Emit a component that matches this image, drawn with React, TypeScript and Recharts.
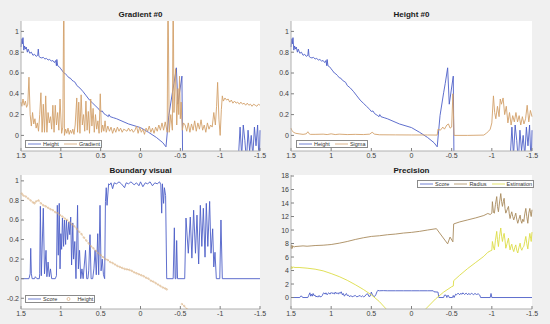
import React from "react";
import { LineChart, Line, XAxis, YAxis, CartesianGrid } from "recharts";

type Pt = [number, number | null];

const xTicks = [1.5, 1, 0.5, 0, -0.5, -1, -1.5];
const unitTicks = [0, 0.2, 0.4, 0.6, 0.8, 1];
const boundaryTicks = [-0.2, 0, 0.2, 0.4, 0.6, 0.8, 1];
const precisionTicks = [0, 2, 4, 6, 8, 10, 12, 14, 16, 18];

// Height profile (shared by the two top panels)
const height: Pt[] = [
  [1.5, 0.85], [1.49, 0.93], [1.483, 0.88], [1.475, 0.94], [1.465, 0.82], [1.455, 0.86], [1.445, 0.83],
  [1.435, 0.85], [1.42, 0.8], [1.41, 0.83], [1.39, 0.79], [1.37, 0.8], [1.35, 0.77], [1.33, 0.78],
  [1.31, 0.76], [1.29, 0.77], [1.283, 0.83], [1.275, 0.76], [1.26, 0.75], [1.24, 0.745], [1.22, 0.75],
  [1.2, 0.735], [1.18, 0.74], [1.16, 0.725], [1.14, 0.73], [1.12, 0.715], [1.1, 0.72], [1.08, 0.7],
  [1.065, 0.72], [1.055, 0.67], [1.05, 0.73], [1.04, 0.67], [1.02, 0.66], [1.0, 0.64], [0.98, 0.62],
  [0.96, 0.6], [0.94, 0.59], [0.92, 0.575], [0.9, 0.555], [0.88, 0.55], [0.86, 0.53], [0.84, 0.52],
  [0.82, 0.51], [0.8, 0.48], [0.76, 0.455], [0.72, 0.42], [0.68, 0.38], [0.64, 0.34], [0.6, 0.31],
  [0.56, 0.28], [0.52, 0.25], [0.5, 0.23], [0.48, 0.235], [0.46, 0.21], [0.44, 0.2], [0.42, 0.19],
  [0.405, 0.18], [0.395, 0.2], [0.38, 0.18], [0.34, 0.17], [0.3, 0.16], [0.15, 0.11], [0.0, 0.075],
  [-0.1, 0.03], [-0.2, -0.02], [-0.28, -0.07], [-0.32, -0.11], [-0.355, 0.19], [-0.4, 0.41],
  [-0.42, 0.5], [-0.45, 0.65], [-0.47, 0.3], [-0.52, 0.57], [-0.53, -0.35], [-1.2, -0.35],
  [-1.23, -0.2], [-1.25, 0.08], [-1.27, -0.2], [-1.29, 0.1], [-1.31, -0.05], [-1.33, -0.25],
  [-1.35, 0.05], [-1.37, -0.15], [-1.39, 0.0], [-1.41, -0.2], [-1.43, 0.08], [-1.45, -0.1],
  [-1.47, 0.1], [-1.49, -0.3], [-1.5, 0.05],
];

const gradient: Pt[] = [
  [1.5, 0.32], [1.49, 0.28], [1.475, 0.35], [1.46, 0.29], [1.445, 0.33], [1.43, 0.27], [1.415, 0.3],
  [1.4, 0.56], [1.385, 0.2], [1.37, 0.09], [1.355, 0.22], [1.34, 0.11], [1.325, 0.16], [1.31, 0.07],
  [1.295, 0.12], [1.28, 0.04], [1.265, 0.2], [1.25, 0.41], [1.235, 0.03], [1.22, 0.3], [1.205, 0.03],
  [1.19, 0.38], [1.175, 0.03], [1.16, 0.22], [1.145, 0.12], [1.13, 0.18], [1.115, 0.06], [1.1, 0.29],
  [1.085, 0.03], [1.07, 0.29], [1.055, 0.1], [1.04, 0.22], [1.025, 0.05], [1.01, 0.35], [0.99, 0.02],
  [0.975, 0.08], [0.962, 1.5], [0.955, 0.0], [0.94, 0.06], [0.925, 0.02], [0.91, 0.07], [0.895, 0.01],
  [0.88, 0.05], [0.865, 0.02], [0.85, 0.06], [0.835, 0.01], [0.82, 0.1], [0.8, 0.36], [0.79, 0.03],
  [0.775, 0.32], [0.76, 0.02], [0.745, 0.39], [0.73, 0.1], [0.715, 0.2], [0.7, 0.04], [0.685, 0.33],
  [0.67, 0.05], [0.655, 0.23], [0.64, 0.02], [0.625, 0.35], [0.61, 0.09], [0.595, 0.26], [0.58, 0.03],
  [0.565, 0.2], [0.55, 0.06], [0.535, 0.14], [0.52, 0.02], [0.505, 0.4], [0.49, 0.03], [0.475, 0.1],
  [0.46, 0.04], [0.445, 0.14], [0.43, 0.03], [0.41, 0.09], [0.39, 0.04], [0.37, 0.08], [0.35, 0.02],
  [0.33, 0.07], [0.31, 0.03], [0.29, 0.08], [0.27, 0.04], [0.25, 0.07], [0.23, 0.03], [0.21, 0.06],
  [0.19, 0.05], [0.17, 0.04], [0.15, 0.07], [0.13, 0.04], [0.11, 0.06], [0.09, 0.03], [0.07, 0.05],
  [0.05, 0.09], [0.03, 0.02], [0.01, 0.08], [-0.01, 0.03], [-0.03, 0.06], [-0.05, 0.01], [-0.07, 0.07],
  [-0.09, 0.04], [-0.11, 0.09], [-0.13, 0.03], [-0.15, 0.07], [-0.17, 0.02], [-0.19, 0.08],
  [-0.21, 0.04], [-0.23, 0.1], [-0.25, 0.05], [-0.27, 0.12], [-0.29, 0.05], [-0.31, 0.13],
  [-0.335, 0.03], [-0.345, 1.5], [-0.36, 0.03], [-0.38, 0.2], [-0.4, 0.05], [-0.41, 1.5], [-0.42, 0.22],
  [-0.44, 0.64], [-0.455, 0.1], [-0.47, 0.45], [-0.48, 0.2], [-0.49, 0.57], [-0.5, 0.16], [-0.51, 0.32],
  [-0.525, 0.05], [-0.54, 0.12], [-0.56, 0.1], [-0.58, 0.04], [-0.6, 0.12], [-0.62, 0.03], [-0.64, 0.11],
  [-0.66, 0.05], [-0.68, 0.14], [-0.7, 0.04], [-0.72, 0.12], [-0.74, 0.06], [-0.76, 0.15], [-0.78, 0.05],
  [-0.8, 0.1], [-0.82, 0.03], [-0.84, 0.12], [-0.86, 0.06], [-0.88, 0.1], [-0.9, 0.08], [-0.92, 0.22],
  [-0.94, 0.1], [-0.955, 0.28], [-0.968, 0.51], [-0.985, 0.15], [-1.0, 0.0], [-1.015, 0.25],
  [-1.027, 0.38], [-1.04, 0.33], [-1.06, 0.36], [-1.08, 0.34], [-1.1, 0.35], [-1.12, 0.32], [-1.14, 0.34],
  [-1.16, 0.31], [-1.18, 0.33], [-1.2, 0.31], [-1.22, 0.32], [-1.24, 0.3], [-1.26, 0.32], [-1.28, 0.3],
  [-1.3, 0.31], [-1.32, 0.29], [-1.34, 0.31], [-1.36, 0.29], [-1.38, 0.3], [-1.4, 0.28], [-1.42, 0.3],
  [-1.44, 0.29], [-1.46, 0.28], [-1.48, 0.3], [-1.5, 0.29],
];

const sigma: Pt[] = [
  [1.5, 0.07], [1.49, 0.05], [1.47, 0.03], [1.44, 0.02], [1.4, 0.015], [1.35, 0.01], [1.31, 0.015],
  [1.29, 0.035], [1.28, 0.02], [1.26, 0.01], [1.2, 0.01], [1.1, 0.012], [1.05, 0.008], [1.0, 0.015],
  [0.95, 0.008], [0.9, 0.012], [0.8, 0.008], [0.7, 0.01], [0.6, 0.008], [0.52, 0.012], [0.49, 0.03],
  [0.46, 0.012], [0.4, 0.006], [0.2, 0.005], [0.0, 0.004], [-0.2, 0.004], [-0.32, 0.003], [-0.33, 0.06],
  [-0.36, 0.05], [-0.39, 0.08], [-0.41, 0.06], [-0.44, 0.1], [-0.46, 0.11], [-0.48, 0.07], [-0.5, 0.08],
  [-0.515, 0.4], [-0.53, 0.0], [-0.7, 0.0], [-0.9, 0.003], [-0.93, 0.02], [-0.96, 0.04], [-0.98, 0.06],
  [-1.0, 0.12], [-1.02, 0.38], [-1.035, 0.22], [-1.05, 0.16], [-1.07, 0.28], [-1.09, 0.18],
  [-1.105, 0.35], [-1.12, 0.3], [-1.14, 0.36], [-1.16, 0.2], [-1.18, 0.28], [-1.2, 0.12], [-1.22, 0.22],
  [-1.24, 0.1], [-1.26, 0.19], [-1.28, 0.13], [-1.3, 0.22], [-1.32, 0.13], [-1.34, 0.19], [-1.36, 0.1],
  [-1.38, 0.18], [-1.4, 0.11], [-1.42, 0.16], [-1.44, 0.29], [-1.46, 0.13], [-1.48, 0.24], [-1.5, 0.18],
];

const boundaryScore: Pt[] = [
  [1.5, 0], [1.4, 0], [1.385, 0.05], [1.378, 0.31], [1.37, 0.05], [1.36, 0], [1.33, 0], [1.32, 0.02],
  [1.3, 0], [1.27, 0], [1.265, 0.05], [1.257, 0.74], [1.245, 0.03], [1.22, 0.72], [1.205, 0.05],
  [1.186, 0.29], [1.175, 0.02], [1.16, 0.17], [1.145, 0.02], [1.13, 0.1], [1.115, 0], [1.07, 0],
  [1.055, 0.03], [1.044, 0.75], [1.032, 0.24], [1.02, 0.77], [1.01, 0.1], [1.0, 0.46], [0.99, 0.3],
  [0.98, 0.62], [0.965, 0.33], [0.955, 0.6], [0.94, 0.35], [0.93, 0.6], [0.915, 0.4], [0.9, 0.58],
  [0.888, 0.45], [0.876, 0.63], [0.865, 0.14], [0.85, 0.57], [0.84, 0.2], [0.825, 0.38], [0.81, 0.0],
  [0.79, 0.75], [0.78, 0.1], [0.765, 0.29], [0.75, 0.0], [0.735, 0.1], [0.72, 0.0], [0.69, 0.29],
  [0.675, 0.0], [0.66, 0.0], [0.65, 0.08], [0.634, 0.45], [0.62, 0.0], [0.6, 0.0], [0.585, 0.1],
  [0.57, 0.29], [0.555, 0.04], [0.537, 0.46], [0.525, 0.04], [0.508, 0.75], [0.495, 0.08], [0.48, 0.2],
  [0.465, 0.04], [0.45, 0.0], [0.44, 0.79], [0.43, 0.93], [0.42, 0.75], [0.4, 0.97], [0.385, 0.96],
  [0.37, 0.98], [0.35, 0.92], [0.33, 0.98], [0.3, 0.97], [0.27, 0.99], [0.24, 0.97], [0.2, 0.93],
  [0.18, 0.98], [0.15, 0.97], [0.12, 0.99], [0.08, 0.96], [0.05, 0.98], [0.02, 0.95], [0.0, 0.99],
  [-0.03, 0.94], [-0.06, 0.98], [-0.09, 0.97], [-0.12, 0.99], [-0.15, 0.95], [-0.18, 0.98],
  [-0.21, 0.97], [-0.24, 0.99], [-0.255, 0.96], [-0.266, 0.67], [-0.275, 0.97], [-0.29, 0.77],
  [-0.3, 0.93], [-0.315, 0.85], [-0.329, 0.0], [-0.41, 0.0], [-0.425, 0.52], [-0.435, 0.0],
  [-0.445, 0.0], [-0.454, 0.39], [-0.465, 0.0], [-0.555, 0.0], [-0.571, 0.62], [-0.6, 0.26],
  [-0.625, 0.63], [-0.645, 0.21], [-0.667, 0.7], [-0.69, 0.26], [-0.709, 0.65], [-0.73, 0.15],
  [-0.751, 0.75], [-0.77, 0.33], [-0.789, 0.72], [-0.81, 0.22], [-0.826, 0.77], [-0.845, 0.33],
  [-0.868, 0.79], [-0.885, 0.26], [-0.906, 0.51], [-0.92, 0.12], [-0.935, 0.27], [-0.952, 0.0],
  [-0.995, 0.0], [-1.01, 0.6], [-1.027, 0.0], [-1.5, 0],
];

const boundaryHeight: Pt[] = [
  [1.49, 0.87], [1.47, 0.85], [1.44, 0.84], [1.41, 0.82], [1.38, 0.8], [1.35, 0.78], [1.33, 0.77],
  [1.31, 0.79], [1.28, 0.8], [1.25, 0.77], [1.22, 0.75], [1.19, 0.74], [1.16, 0.725], [1.13, 0.71],
  [1.1, 0.7], [1.07, 0.68], [1.04, 0.67], [1.01, 0.65], [0.98, 0.635], [0.95, 0.615], [0.92, 0.6],
  [0.89, 0.575], [0.86, 0.555], [0.83, 0.535], [0.8, 0.51], [0.77, 0.48], [0.74, 0.455], [0.71, 0.42],
  [0.68, 0.39], [0.65, 0.36], [0.62, 0.33], [0.59, 0.31], [0.56, 0.285], [0.53, 0.26], [0.5, 0.24],
  [0.47, 0.22], [0.44, 0.2], [0.41, 0.19], [0.38, 0.17], [0.35, 0.16], [0.32, 0.145], [0.29, 0.13],
  [0.26, 0.12], [0.23, 0.11], [0.2, 0.1], [0.17, 0.095], [0.14, 0.09], [0.11, 0.08], [0.08, 0.065],
  [0.05, 0.055], [0.02, 0.045], [-0.01, 0.035], [-0.04, 0.025], [-0.07, 0.01], [-0.1, 0.0],
  [-0.13, -0.02], [-0.16, -0.03], [-0.19, -0.045], [-0.22, -0.06], [-0.25, -0.075], [-0.28, -0.09],
  [-0.31, -0.1], [-0.33, -0.11], [-0.4, null], [-0.52, -0.26], [-0.55, -0.28], [-0.58, -0.31],
  [-0.61, -0.34],
];

const precisionScore: Pt[] = [
  [1.5, 0], [1.39, 0], [1.38, 0.2], [1.365, 0.2], [1.355, 0], [1.29, 0], [1.28, 0.3], [1.265, 0.7],
  [1.255, 0.2], [1.245, 0.5], [1.235, 0.2], [1.225, 0.6], [1.215, 0.3], [1.2, 0.35], [1.19, 0.1],
  [1.175, 0.2], [1.165, 0.05], [1.15, 0.3], [1.14, 0.1], [1.12, 0.15], [1.11, 0.3], [1.1, 0.6],
  [1.09, 0.7], [1.075, 0.5], [1.065, 0.7], [1.05, 0.4], [1.04, 0.6], [1.03, 0.7], [1.015, 0.5],
  [1.0, 0.75], [0.99, 0.6], [0.975, 0.7], [0.96, 0.5], [0.95, 0.8], [0.94, 0.6], [0.925, 0.7],
  [0.91, 0.5], [0.9, 0.75], [0.89, 0.6], [0.875, 0.85], [0.86, 0.4], [0.85, 0.6], [0.835, 0.2],
  [0.82, 0.5], [0.81, 0.6], [0.8, 0.3], [0.785, 0.35], [0.77, 0.1], [0.755, 0.3], [0.74, 0.1],
  [0.72, 0.2], [0.7, 0.3], [0.68, 0.1], [0.66, 0.2], [0.64, 0.3], [0.625, 0.1], [0.61, 0.25],
  [0.595, 0.1], [0.58, 0.2], [0.56, 0.5], [0.545, 0.55], [0.53, 0.15], [0.515, 0.2], [0.5, 0.8],
  [0.49, 0.5], [0.475, 0.2], [0.46, 0.15], [0.445, 0.4], [0.43, 0.85], [0.42, 1.05], [0.4, 1.0],
  [0.35, 1.02], [0.3, 1.0], [0.2, 1.0], [0.1, 1.0], [0.0, 1.0], [-0.1, 1.0], [-0.2, 1.0], [-0.27, 1.0],
  [-0.28, 0.85], [-0.33, 0.8], [-0.34, 0.0], [-0.4, 0.0], [-0.41, 0.35], [-0.43, 0.35], [-0.44, 0.0],
  [-0.45, 0.3], [-0.46, 0.3], [-0.47, 0.0], [-0.51, 0.0], [-0.52, 0.3], [-0.53, 0.0], [-0.55, 0.5],
  [-0.56, 0.4], [-0.58, 0.65], [-0.6, 0.4], [-0.61, 0.6], [-0.63, 0.5], [-0.64, 0.7], [-0.66, 0.45],
  [-0.68, 0.65], [-0.7, 0.4], [-0.71, 0.6], [-0.73, 0.45], [-0.75, 0.65], [-0.77, 0.4], [-0.79, 0.6],
  [-0.81, 0.45], [-0.83, 0.55], [-0.85, 0.35], [-0.86, 0.0], [-0.98, 0.0], [-0.99, 0.6], [-1.0, 0.0],
  [-1.5, 0.0],
];

const radius: Pt[] = [
  [1.5, 7.3], [1.495, 7.8], [1.49, 7.2], [1.485, 7.7], [1.48, 7.4], [1.47, 7.6], [1.46, 7.5],
  [1.45, 7.55], [1.4, 7.6], [1.35, 7.65], [1.3, 7.6], [1.25, 7.65], [1.2, 7.7], [1.1, 7.75],
  [1.05, 7.8], [1.0, 7.85], [0.9, 8.05], [0.8, 8.3], [0.7, 8.6], [0.6, 8.85], [0.5, 9.05], [0.4, 9.15],
  [0.3, 9.3], [0.2, 9.4], [0.1, 9.55], [0.0, 9.65], [-0.1, 9.8], [-0.2, 10.0], [-0.31, 10.2],
  [-0.45, 7.95], [-0.48, 8.95], [-0.515, 8.25], [-0.525, 10.9], [-0.6, 11.2], [-0.7, 11.5],
  [-0.8, 11.8], [-0.9, 12.15], [-0.95, 12.45], [-0.98, 12.3], [-1.0, 12.5], [-1.007, 14.2],
  [-1.02, 12.6], [-1.032, 12.5], [-1.045, 13.8], [-1.061, 14.95], [-1.07, 13.5], [-1.082, 12.7],
  [-1.095, 14.0], [-1.111, 15.4], [-1.122, 14.2], [-1.132, 13.5], [-1.143, 14.2], [-1.153, 14.7],
  [-1.164, 13.2], [-1.174, 12.5], [-1.19, 13.0], [-1.207, 13.5], [-1.217, 12.4], [-1.227, 11.7],
  [-1.238, 12.3], [-1.248, 12.7], [-1.26, 12.0], [-1.273, 11.5], [-1.285, 12.0], [-1.298, 12.5],
  [-1.31, 11.6], [-1.323, 11.0], [-1.337, 11.6], [-1.352, 12.2], [-1.362, 11.4], [-1.373, 11.0],
  [-1.385, 11.6], [-1.398, 11.25], [-1.41, 12.4], [-1.423, 13.2], [-1.435, 12.0], [-1.448, 11.0],
  [-1.46, 12.5], [-1.473, 13.2], [-1.483, 12.4], [-1.49, 12.0], [-1.5, 13.0],
];

const estimation: Pt[] = [
  [1.5, 4.2], [1.495, 4.6], [1.49, 4.3], [1.485, 4.55], [1.48, 4.4], [1.47, 4.5], [1.45, 4.45],
  [1.4, 4.45], [1.3, 4.35], [1.2, 4.2], [1.1, 3.95], [1.0, 3.55], [0.9, 3.1], [0.8, 2.55], [0.7, 1.9],
  [0.6, 1.2], [0.5, 0.4], [0.4, -0.6], [0.3, -1.9], [0.25, -3], [-0.1, -3], [-0.16, -1.9],
  [-0.3, -0.2], [-0.4, 0.8], [-0.5, 1.6], [-0.52, 1.7], [-0.525, 2.5], [-0.6, 3.3], [-0.7, 4.3],
  [-0.8, 5.2], [-0.9, 6.1], [-0.95, 6.7], [-0.98, 6.9], [-1.0, 7.0], [-1.007, 8.3], [-1.02, 7.5],
  [-1.032, 7.05], [-1.045, 8.5], [-1.061, 9.8], [-1.07, 8.6], [-1.082, 7.55], [-1.095, 9.0],
  [-1.111, 10.3], [-1.122, 9.1], [-1.132, 8.3], [-1.143, 9.0], [-1.153, 9.5], [-1.164, 8.5],
  [-1.174, 7.3], [-1.19, 8.0], [-1.207, 8.8], [-1.217, 7.8], [-1.227, 7.05], [-1.238, 7.6],
  [-1.248, 7.9], [-1.26, 7.2], [-1.273, 6.8], [-1.285, 7.4], [-1.298, 7.8], [-1.31, 7.0],
  [-1.323, 6.6], [-1.337, 7.4], [-1.352, 8.05], [-1.362, 7.3], [-1.373, 7.0], [-1.385, 7.4],
  [-1.398, 7.55], [-1.41, 8.3], [-1.423, 9.05], [-1.435, 8.0], [-1.448, 7.2], [-1.46, 8.4],
  [-1.473, 9.5], [-1.483, 8.8], [-1.49, 8.3], [-1.5, 9.7],
];

const BLUE = "#4d5fc7";
const TAN = "#d2a06a";
const BROWN = "#a88a5c";
const YELLOW = "#dcdc46";
const FONT = "'Liberation Sans', Arial, sans-serif";
const BORDER = "#b0b0b0";
const PAD_RIGHT = 10;
const PAD_TOP = 5;

const rows = (pts: Pt[]) => pts.map(([x, y]) => ({ x, y }));

const tickStyle = { fontSize: 7, fill: "#404040", fontFamily: FONT };

function Panel({
  left,
  top,
  width,
  height,
  yDomain,
  yTicks,
  children,
}: {
  left: number;
  top: number;
  width: number;
  height: number;
  yDomain: [number, number];
  yTicks: number[];
  children: React.ReactNode;
}) {
  // left/top/width/height describe the plot box plus axis labels; padding keeps edge labels visible
  return (
    <div style={{ position: "absolute", left, top: top - PAD_TOP }}>
      <LineChart
        width={width + PAD_RIGHT}
        height={height + PAD_TOP}
        margin={{ top: PAD_TOP, right: PAD_RIGHT, bottom: 0, left: 0 }}
      >
        <CartesianGrid horizontal={false} vertical={false} fill="#ffffff" />
        <XAxis
          dataKey="x"
          type="number"
          domain={[-1.5, 1.5]}
          reversed
          ticks={xTicks}
          interval={0}
          height={12}
          tick={tickStyle}
          tickSize={-3}
          tickMargin={5}
          axisLine={{ stroke: BORDER }}
          tickLine={{ stroke: "#808080" }}
        />
        <XAxis
          xAxisId="t"
          orientation="top"
          type="number"
          domain={[-1.5, 1.5]}
          reversed
          ticks={xTicks}
          interval={0}
          height={0}
          tick={false}
          tickSize={-3}
          axisLine={{ stroke: BORDER }}
          tickLine={{ stroke: "#808080" }}
        />
        <YAxis
          type="number"
          domain={yDomain}
          allowDataOverflow
          ticks={yTicks}
          interval={0}
          width={20}
          tick={tickStyle}
          tickSize={-3}
          tickMargin={5}
          axisLine={{ stroke: BORDER }}
          tickLine={{ stroke: "#808080" }}
        />
        <YAxis
          yAxisId="r"
          orientation="right"
          type="number"
          domain={yDomain}
          allowDataOverflow
          ticks={yTicks}
          interval={0}
          width={0}
          tick={false}
          tickSize={-3}
          axisLine={{ stroke: BORDER }}
          tickLine={{ stroke: "#808080" }}
        />
        {children}
      </LineChart>
    </div>
  );
}

function Title({ cx, top, text }: { cx: number; top: number; text: string }) {
  return (
    <div
      style={{
        position: "absolute",
        left: cx - 60,
        top,
        width: 120,
        textAlign: "center",
        fontFamily: FONT,
        fontWeight: "bold",
        fontSize: 8,
        color: "#1a1a1a",
        lineHeight: "10px",
      }}
    >
      {text}
    </div>
  );
}

type LegendItem = { label: string; color: string; marker?: boolean };

function LegendBox({ left, top, items }: { left: number; top: number; items: LegendItem[] }) {
  return (
    <div
      style={{
        position: "absolute",
        left,
        top,
        height: 6,
        display: "flex",
        alignItems: "center",
        gap: 5,
        padding: "0 1px 0 2px",
        background: "#fff",
        border: "1px solid #8a8a8a",
        fontFamily: FONT,
        fontSize: 5.5,
        lineHeight: "6px",
        color: "#333",
        whiteSpace: "nowrap",
      }}
    >
      {items.map((it) => (
        <span key={it.label} style={{ display: "flex", alignItems: "center" }}>
          <svg width={13} height={6}>
            {it.marker ? (
              <circle cx={6.5} cy={3} r={1.5} fill="none" stroke={it.color} strokeWidth={0.6} />
            ) : (
              <line x1={0} y1={3} x2={13} y2={3} stroke={it.color} strokeWidth={0.8} />
            )}
          </svg>
          <span style={{ marginLeft: 2 }}>{it.label}</span>
        </span>
      ))}
    </div>
  );
}

const line = (pts: Pt[], color: string, key: string) => (
  <Line
    key={key}
    data={rows(pts)}
    dataKey="y"
    stroke={color}
    strokeWidth={0.9}
    dot={false}
    isAnimationActive={false}
  />
);

export default function App() {
  return (
    <div
      style={{
        position: "absolute",
        left: 0,
        top: 0,
        width: 550,
        height: 324,
        background: "#f0f0f0",
        overflow: "hidden",
      }}
    >
      <Title cx={140.5} top={10} text="Gradient #0" />
      <Title cx={411.5} top={10} text="Height #0" />
      <Title cx={140.5} top={166} text="Boundary visual" />
      <Title cx={411.5} top={166} text="Precision" />

      <Panel left={1} top={21} width={259} height={142} yDomain={[-0.15, 1.1]} yTicks={unitTicks}>
        {line(height, BLUE, "h")}
        {line(gradient, TAN, "g")}
      </Panel>

      <Panel left={271} top={21} width={261} height={142} yDomain={[-0.15, 1.1]} yTicks={unitTicks}>
        {line(height, BLUE, "h")}
        {line(sigma, TAN, "s")}
      </Panel>

      <Panel left={1} top={175} width={259} height={146} yDomain={[-0.31, 1.06]} yTicks={boundaryTicks}>
        {line(boundaryScore, BLUE, "bs")}
        <Line
          data={rows(boundaryHeight)}
          dataKey="y"
          stroke="#dcb98e"
          strokeWidth={0.5}
          dot={{ r: 0.8, stroke: "#d2a06a", strokeWidth: 0.45, fill: "none" }}
          isAnimationActive={false}
        />
      </Panel>

      <Panel left={271} top={175} width={261} height={146} yDomain={[-1.7, 18.15]} yTicks={precisionTicks}>
        {line(precisionScore, BLUE, "ps")}
        {line(radius, BROWN, "r")}
        {line(estimation, YELLOW, "e")}
      </Panel>

      <LegendBox
        left={25}
        top={140}
        items={[
          { label: "Height", color: BLUE },
          { label: "Gradient", color: TAN },
        ]}
      />
      <LegendBox
        left={296}
        top={140}
        items={[
          { label: "Height", color: BLUE },
          { label: "Sigma", color: TAN },
        ]}
      />
      <LegendBox
        left={25}
        top={295}
        items={[
          { label: "Score", color: BLUE },
          { label: "Height", color: TAN, marker: true },
        ]}
      />
      <LegendBox
        left={417}
        top={180}
        items={[
          { label: "Score", color: BLUE },
          { label: "Radius", color: BROWN },
          { label: "Estimation", color: YELLOW },
        ]}
      />
    </div>
  );
}
